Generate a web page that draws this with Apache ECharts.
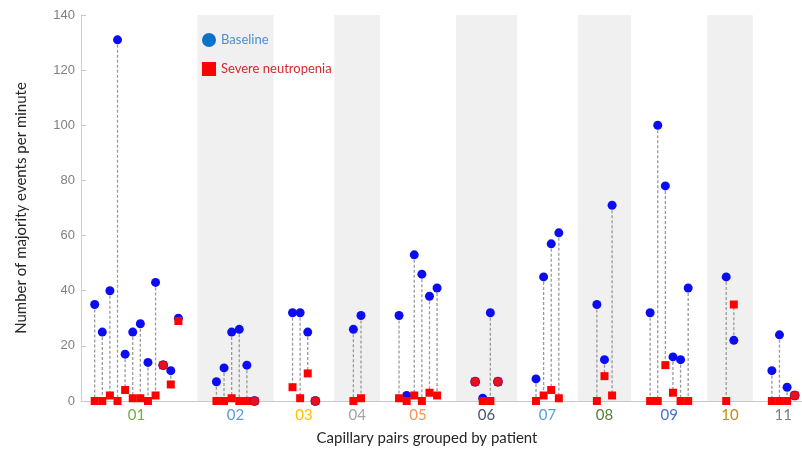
<!DOCTYPE html>
<html>
<head>
<meta charset="utf-8">
<script src="https://cdn.jsdelivr.net/npm/echarts@6/dist/echarts.min.js"></script>
<style>html,body{margin:0;padding:0;background:#fff}#c{width:802px;height:452px}</style>
</head>
<body>
<div id="c"></div>
<script>
const groups = ['01','02','03','04','05','06','07','08','09','10','11'];
const baseline = [
  [35,25,40,131,17,25,28,14,43,13,11,30],
  [7,12,25,26,13,0],
  [32,32,25,0],
  [26,31],
  [31,2,53,46,38,41],
  [7,1,32,7],
  [8,45,57,61],
  [35,15,71],
  [32,100,78,16,15,41],
  [45,22],
  [11,24,5,2]
];
const severe = [
  [0,0,2,0,4,1,1,0,2,13,6,29],
  [0,0,1,0,0,0],
  [5,1,10,0],
  [0,1],
  [1,0,2,0,3,2],
  [7,0,0,7],
  [0,2,4,1],
  [0,9,2],
  [0,0,13,3,0,0],
  [0,35],
  [0,0,0,2]
];
const yTicks = [0,20,40,60,80,100,120,140];
const shadedGroups = ['02','04','06','08','10'];

const groupColors = {'01':'#70ad47','02':'#5b9bd5','03':'#ffc000','04':'#a5a5a5','05':'#f4955a','06':'#44546a','07':'#5b9bd5','08':'#548235','09':'#4472c4','10':'#bf9000','11':'#7f7f7f'};

const GAP = 5;
let idx = 0;
const pairs = [], blueData = [], redData = [], overlap = [], centers = [], bands = [];
groups.forEach((g, gi) => {
  const start = idx;
  baseline[gi].forEach((b, k) => {
    const s = severe[gi][k];
    pairs.push([idx, b, s]);
    blueData.push([idx, b]);
    redData.push([idx, s]);
    if (b === s) overlap.push([idx, b]);
    idx++;
  });
  const end = idx - 1;
  centers.push({v: (start + end) / 2, g});
  if (shadedGroups.includes(g)) bands.push([{xAxis: start - GAP / 2}, {xAxis: end + GAP / 2}]);
  idx += GAP - 1;
});

const rich = {};
groups.forEach(g => { rich['g' + g] = {color: groupColors[g], fontSize: 15, fontFamily: 'Lato'}; });

const chart = echarts.init(document.getElementById('c'), null, {renderer: 'canvas'});
chart.setOption({
  animation: false,
  backgroundColor: '#fff',
  grid: {left: 81, right: 0, top: 15, bottom: 51},
  legend: {
    orient: 'vertical', left: 197, top: 28, itemWidth: 14, itemHeight: 14, itemGap: 15,
    textStyle: {fontFamily: 'Lato', fontSize: 13},
    data: [
      {name: 'Baseline', icon: 'circle', itemStyle: {color: '#0a72c8', opacity: 1}, textStyle: {color: '#4a8fd0'}},
      {name: 'Severe neutropenia', icon: 'rect', itemStyle: {color: '#ff0000', opacity: 1}, textStyle: {color: '#d22b2b'}}
    ]
  },
  xAxis: {
    type: 'value', min: -1.8, max: 92.96,
    axisLine: {show: true, onZero: false, lineStyle: {color: '#c8c8c8', width: 1}},
    axisTick: {show: false},
    splitLine: {show: false},
    axisLabel: {
      customValues: centers.map(c => c.v),
      margin: 7,
      formatter: v => { const c = centers.find(c => Math.abs(c.v - v) < 1e-6); return c ? '{g' + c.g + '|' + c.g + '}' : ''; },
      rich: rich
    },
    name: 'Capillary pairs grouped by patient', nameLocation: 'middle', nameGap: 30,
    nameTextStyle: {fontFamily: 'Lato', fontSize: 15, color: '#262626', padding: [0, 29, 0, 0]}
  },
  yAxis: {
    type: 'value', min: 0, max: 140, interval: 20,
    axisLine: {show: true, onZero: false, lineStyle: {color: '#d0d0d0'}},
    axisTick: {show: true, inside: true, length: 5, lineStyle: {color: '#c8c8c8'}},
    splitLine: {show: false},
    axisLabel: {color: '#808080', fontSize: 13, fontFamily: 'Liberation Sans', margin: 6},
    name: 'Number of majority events per minute', nameLocation: 'middle', nameGap: 52, nameRotate: 90,
    nameTextStyle: {fontFamily: 'Lato', fontSize: 15, color: '#262626'}
  },
  series: [
    {
      type: 'line', data: [], silent: true, z: 0,
      markArea: {silent: true, itemStyle: {color: '#f0f0f0'}, data: bands}
    },
    {
      type: 'custom', z: 1, silent: true,
      data: pairs,
      renderItem: (params, api) => {
        const p1 = api.coord([api.value(0), api.value(1)]);
        const p2 = api.coord([api.value(0), api.value(2)]);
        return {type: 'line', shape: {x1: p1[0], y1: p1[1], x2: p2[0], y2: p2[1]},
          style: {stroke: '#9a9a9a', lineWidth: 1.3, lineDash: [3, 2]}};
      }
    },
    {
      name: 'Baseline', type: 'scatter', z: 2, symbol: 'circle', symbolSize: 9,
      itemStyle: {color: '#0c0cf2', opacity: 1}, data: blueData
    },
    {
      name: 'Severe neutropenia', type: 'scatter', z: 3, symbol: 'rect', symbolSize: 8,
      itemStyle: {color: '#ff0000', opacity: 1}, data: redData
    },
    {
      name: 'overlap', type: 'scatter', z: 4, symbol: 'circle', symbolSize: 9,
      itemStyle: {color: '#e8101c', borderColor: '#7a1060', borderWidth: 0.8, opacity: 1}, data: overlap
    }
  ]
});
</script>
</body>
</html>
